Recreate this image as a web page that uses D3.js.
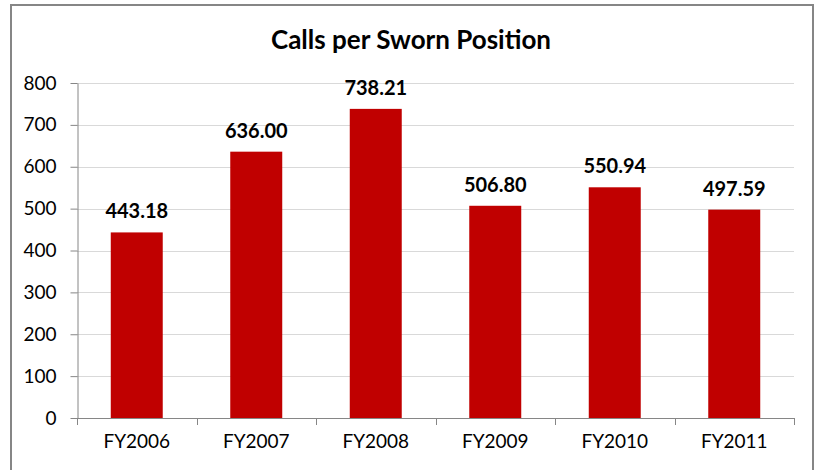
<!DOCTYPE html>
<html>
<head>
<meta charset="utf-8">
<script src="https://cdn.jsdelivr.net/npm/d3@7"></script>
<style>
body { margin: 0; background: #fff; }
text { font-family: Lato, "Open Sans", sans-serif; fill: #000; }
</style>
</head>
<body>
<svg id="chart" width="817" height="470"></svg>
<script>
// data
var categories = ["FY2006", "FY2007", "FY2008", "FY2009", "FY2010", "FY2011"];
var values = [443.18, 636.00, 738.21, 506.80, 550.94, 497.59];
var yTicks = [0, 100, 200, 300, 400, 500, 600, 700, 800];

var svg = d3.select("#chart");
var plotLeft = 77, plotRight = 794, plotTop = 83, plotBottom = 418;

// outer frame
svg.append("rect")
  .attr("x", 11).attr("y", 5)
  .attr("width", 802).attr("height", 480)
  .attr("fill", "none").attr("stroke", "#868686").attr("stroke-width", 2);

svg.append("text")
  .attr("x", 411).attr("y", 49)
  .attr("text-anchor", "middle")
  .style("font-size", "26px").style("font-weight", "bold")
  .text("Calls per Sworn Position");

var x = d3.scaleBand().domain(categories).range([plotLeft, plotRight]).paddingInner(0.565).paddingOuter(0.2825);
var y = d3.scaleLinear().domain([0, 800]).range([plotBottom, plotTop]);

// gridlines
svg.append("g").selectAll("line").data(yTicks.slice(1)).enter().append("line")
  .attr("x1", plotLeft).attr("x2", plotRight)
  .attr("y1", function(d){ return Math.round(y(d)) + 0.5; }).attr("y2", function(d){ return Math.round(y(d)) + 0.5; })
  .attr("stroke", "#d9d9d9");

// y axis
var yAxis = svg.append("g").attr("transform", "translate(" + (plotLeft + 0.5) + ",0)")
  .call(d3.axisLeft(y).tickValues(yTicks).tickSize(7).tickPadding(14).tickSizeOuter(0));
yAxis.select(".domain").attr("stroke", "#868686");
yAxis.selectAll(".tick line").attr("stroke", "#868686");
yAxis.selectAll(".tick text").style("font-size", "19px").style("font-family", "Lato, 'Open Sans', sans-serif").attr("fill", "#000");

// bars
svg.append("g").selectAll("rect").data(values).enter().append("rect")
  .attr("x", function(d, i){ return x(categories[i]); })
  .attr("y", function(d){ return y(d); })
  .attr("width", x.bandwidth())
  .attr("height", function(d){ return plotBottom - y(d); })
  .attr("fill", "#c00000");

// x axis with boundary ticks
var xg = svg.append("g");
xg.append("line").attr("x1", plotLeft).attr("x2", plotRight)
  .attr("y1", plotBottom + 0.5).attr("y2", plotBottom + 0.5).attr("stroke", "#868686");
var step = x.step();
xg.selectAll("line.b").data(d3.range(categories.length + 1)).enter().append("line")
  .attr("class", "b")
  .attr("x1", function(i){ return Math.round(plotLeft + i * step) + 0.5; })
  .attr("x2", function(i){ return Math.round(plotLeft + i * step) + 0.5; })
  .attr("y1", plotBottom).attr("y2", plotBottom + 7)
  .attr("stroke", "#868686");
xg.selectAll("text").data(categories).enter().append("text")
  .attr("x", function(d){ return x(d) + x.bandwidth() / 2; })
  .attr("y", plotBottom + 30)
  .attr("text-anchor", "middle")
  .style("font-size", "19px")
  .text(function(d){ return d; });

// value labels
svg.append("g").selectAll("text").data(values).enter().append("text")
  .attr("x", function(d, i){ return x(categories[i]) + x.bandwidth() / 2; })
  .attr("y", function(d){ return y(d) - 14; })
  .attr("text-anchor", "middle")
  .style("font-size", "20px").style("font-weight", "bold")
  .text(function(d){ return d.toFixed(2); });
</script>
</body>
</html>
